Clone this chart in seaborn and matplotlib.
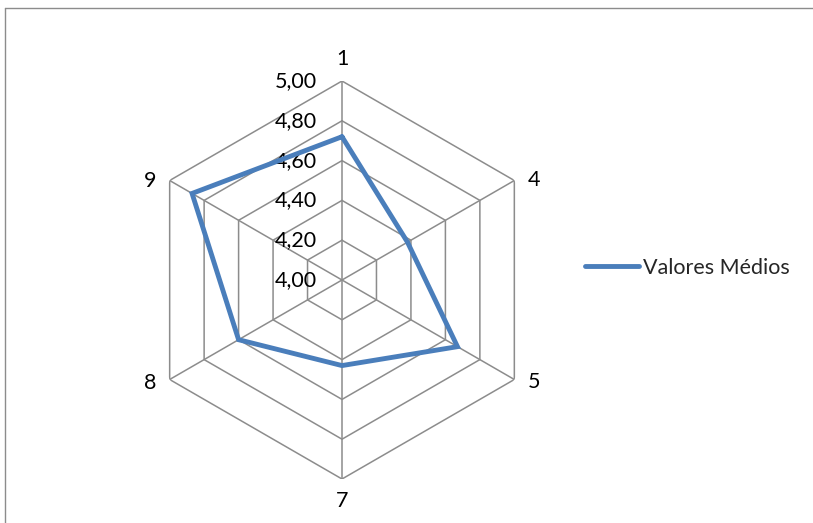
import numpy as np
import matplotlib
matplotlib.use("Agg")
import matplotlib.pyplot as plt
import seaborn as sns
from matplotlib.lines import Line2D

sns.set_theme(style="white")
plt.rcParams["font.family"] = ["Lato", "DejaVu Sans"]

# Radar data: questionnaire items and their mean scores
categories = ["1", "4", "5", "7", "8", "9"]
mean_values = [4.72, 4.38, 4.67, 4.43, 4.60, 4.87]
ring_levels = [4.00, 4.20, 4.40, 4.60, 4.80, 5.00]
ring_labels = ["4,00", "4,20", "4,40", "4,60", "4,80", "5,00"]
series_name = "Valores Médios"

W, H, DPI = 813, 523, 100
fig = plt.figure(figsize=(W / DPI, H / DPI), dpi=DPI)
fig.patch.set_facecolor("white")

# chart-area frame: only the top and left edges fall inside the image
frame_kw = dict(transform=fig.transFigure, color="#8c8c8c", linewidth=1.0)
fig.add_artist(Line2D([4.5 / W, 1.05], [1 - 7.5 / H] * 2, **frame_kw))
fig.add_artist(Line2D([4.5 / W] * 2, [-0.05, 1 - 7.5 / H], **frame_kw))

cx, cy, R = 342, 280, 199
ax = fig.add_axes([(cx - R) / W, (H - cy - R) / H, 2 * R / W, 2 * R / H],
                  projection="polar")
ax.set_theta_zero_location("N")
ax.set_theta_direction(-1)
ax.set_ylim(ring_levels[0], ring_levels[-1])
ax.grid(False)
ax.spines["polar"].set_visible(False)
ax.set_xticks([])
ax.set_yticks([])
ax.patch.set_alpha(0)

n = len(categories)
angles = np.linspace(0, 2 * np.pi, n, endpoint=False)
closed = np.append(angles, angles[0])

grid_color = "#8c8c8c"
# hexagonal rings
for lv in ring_levels[1:]:
    ax.plot(closed, [lv] * (n + 1), color=grid_color, linewidth=1.1,
            solid_joinstyle="miter", zorder=1)
# spokes
for a in angles:
    ax.plot([a, a], [ring_levels[0], ring_levels[-1]], color=grid_color,
            linewidth=1.1, zorder=1)

# data series
vals = np.append(mean_values, mean_values[0])
line, = ax.plot(closed, vals, color="#4A7EBB", linewidth=3.5,
                solid_joinstyle="miter", zorder=3, label=series_name)

fs = 15.5
# radial value labels along the top spoke
for lv, txt in zip(ring_levels, ring_labels):
    ax.annotate(txt, xy=(0, lv), xytext=(-25, 0), textcoords="offset pixels",
                ha="right", va="center", fontsize=fs, color="black",
                annotation_clip=False, zorder=2)

# category labels around the outside
offsets = {0: (0, 22), 1: (13, 0), 2: (13, -3), 3: (0, -22), 4: (-13, -3), 5: (-13, 0)}
for i, (a, c) in enumerate(zip(angles, categories)):
    dx, dy = offsets[i]
    ha = "center" if dx == 0 else ("left" if dx > 0 else "right")
    ax.annotate(c, xy=(a, ring_levels[-1]), xytext=(dx, dy),
                textcoords="offset pixels", ha=ha, va="center",
                fontsize=fs, color="black", annotation_clip=False)

leg = fig.legend(handles=[line], labels=[series_name], loc="center left",
                 bbox_to_anchor=(585 / W, 1 - 268 / H), frameon=False,
                 fontsize=fs, handlelength=2.5, handletextpad=0.2,
                 borderpad=0, borderaxespad=0)
leg.get_lines()[0].set_solid_capstyle("round")

fig.savefig("out.png", dpi=DPI, facecolor="white")
